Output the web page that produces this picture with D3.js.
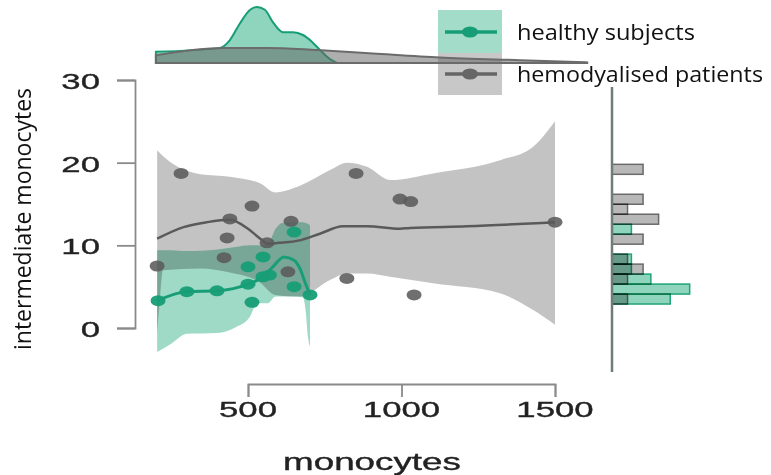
<!DOCTYPE html>
<html>
<head>
<meta charset="utf-8">
<script src="https://cdn.jsdelivr.net/npm/d3@7"></script>
<style>
  body { margin: 0; background: #ffffff; }
  svg { display: block; }
</style>
</head>
<body>
<div id="chart"></div>
<script>
// ---- data ----
var healthyX = [207, 301, 399, 500, 513, 500, 549, 549, 570, 650, 650, 702];
var healthyY = [3.3, 4.4, 4.5, 5.3, 3.1, 7.4, 8.6, 6.2, 6.4, 11.6, 5.0, 4.0];
var patientX = [282, 852, 995, 1030, 513, 441, 640, 1500, 432, 562, 422, 204, 630, 822, 1041];
var patientY = [18.7, 18.7, 15.6, 15.3, 14.75, 13.2, 12.9, 12.8, 10.9, 10.3, 8.5, 7.5, 6.8, 6.0, 4.0];

// smoothed fits
var healthyFitX = [204, 301, 399, 500, 549, 581, 617, 650, 669, 685, 702];
var healthyFitY = [3.3, 4.4, 4.5, 5.3, 6.2, 7.4, 8.6, 8.2, 7.2, 5.6, 4.0];
var patientFitX = [204, 290, 366, 441, 500, 540, 565, 600, 669, 734, 809, 888, 995, 1028, 1213, 1500];
var patientFitY = [10.8, 12.2, 12.8, 13.1, 12.0, 10.8, 10.2, 10.3, 10.6, 11.4, 12.3, 12.3, 12.0, 12.1, 12.3, 12.8];

// confidence bands
var healthyBandX = [204, 250, 300, 400, 460, 505, 530, 565, 590, 611, 650, 679, 688, 695, 702];
var healthyLo = [-2.9, -1.9, -0.7, -0.6, 0.1, 1.3, 3.0, 3.0, 3.8, 3.8, 3.8, 3.7, 2.0, -1.0, -2.3];
var healthyHi = [9.4, 9.4, 9.3, 9.5, 9.8, 10.0, 10.0, 10.2, 12.0, 12.7, 12.8, 12.8, 12.7, 12.6, 12.4];
var patientBandX = [204, 212, 223, 344, 441, 539, 588, 669, 767, 822, 888, 963, 1103, 1321, 1428, 1500];
var patientLo = [-0.6, 3.0, 7.0, 7.2, 6.7, 5.5, 4.0, 3.8, 5.8, 6.6, 6.6, 6.2, 5.4, 4.2, 2.2, 0.4];
var patientHi = [21.5, 21.2, 20.8, 18.6, 18.3, 17.5, 16.4, 17.2, 19.1, 20.0, 19.5, 17.9, 18.7, 20.3, 21.9, 25.0];

// marginal densities on top (relative height)
var healthyDensX = [200, 409, 441, 474, 507, 529, 555, 581, 614, 647, 679, 708, 735, 767, 790];
var healthyDens = [0.2, 0.27, 0.41, 0.71, 0.95, 1.0, 0.95, 0.73, 0.55, 0.55, 0.5, 0.38, 0.23, 0.07, 0];
var patientDensX = [200, 419, 562, 725, 907, 1125, 1386, 1605];
var patientDens = [0.14, 0.27, 0.27, 0.23, 0.17, 0.1, 0.05, 0.01];

var xTicks = [500, 1000, 1500];
var yTicks = [0, 10, 20, 30];
var groups = ["healthy subjects", "hemodyalised patients"];

// ---- colours ----
var green = "#179e76", greenBand = "#9edac6", greenFill = "#8fd5bd";
var grey = "#5b5b5b", greyBand = "#c3c3c3", greyFill = "#b8b8b8";

var svg = d3.select("#chart").append("svg")
    .attr("width", 771)
    .attr("height", 475);

var x = d3.scaleLinear().domain([500, 1500]).range([248, 555]);
var y = d3.scaleLinear().domain([0, 30]).range([328, 80]);
var dy = d3.scaleLinear().domain([0, 1]).range([63, 7]);
var hx = d3.scaleLinear().domain([0, 1]).range([612, 845]);

function zip(xs, ys) {
    return xs.map(function (v, i) { return [v, ys[i]]; });
}

// stretched text (the picture is wider than it is tall)
function wideText(g, px, py, str, size, sx, anchor) {
    return g.append("text")
        .attr("transform", "translate(" + px + "," + py + ") scale(" + sx + ",1)")
        .attr("text-anchor", anchor)
        .style("font-family", "'Liberation Sans', Arial, sans-serif")
        .style("font-size", size + "px")
        .style("fill", "#222")
        .style("stroke", "#222")
        .style("stroke-width", 0.35)
        .text(str);
}

// ---- legend ----
var leg = svg.append("g");
leg.append("rect").attr("x", 438).attr("y", 10).attr("width", 64).attr("height", 43).attr("fill", "#a3dcc9");
leg.append("rect").attr("x", 438).attr("y", 53).attr("width", 64).attr("height", 42).attr("fill", "#c8c8c8");
[[32, green], [74, "#666"]].forEach(function (r, i) {
    leg.append("line").attr("x1", 445).attr("x2", 497).attr("y1", r[0]).attr("y2", r[0])
        .attr("stroke", r[1]).attr("stroke-width", 3.5);
    leg.append("ellipse").attr("cx", 470).attr("cy", r[0]).attr("rx", 8).attr("ry", 5.5).attr("fill", r[1]);
    leg.append("text")
        .attr("x", 517)
        .attr("y", r[0] + 8)
        .attr("textLength", i == 0 ? 178 : 246)
        .attr("lengthAdjust", "spacingAndGlyphs")
        .style("font-family", "'Open Sans', sans-serif")
        .style("font-size", "21px")
        .style("fill", "#111")
        .text(groups[i]);
});

// ---- top marginal densities ----
var densArea = d3.area()
    .x(function (d) { return x(d[0]); })
    .y0(dy(0))
    .y1(function (d) { return dy(d[1]); })
    .curve(d3.curveMonotoneX);

svg.append("path")
    .datum(zip(healthyDensX, healthyDens))
    .attr("d", densArea)
    .attr("fill", greenFill)
    .attr("stroke", green)
    .attr("stroke-width", 2);
svg.append("path")
    .datum(zip(patientDensX, patientDens))
    .attr("d", densArea)
    .attr("fill", "rgba(100,100,100,0.52)")
    .attr("stroke", "#6b6b6b")
    .attr("stroke-width", 2);

// ---- main panel ----
var band = d3.area()
    .x(function (d) { return x(d[0]); })
    .y0(function (d) { return y(d[1]); })
    .y1(function (d) { return y(d[2]); })
    .curve(d3.curveMonotoneX);

svg.append("path")
    .datum(patientBandX.map(function (v, i) { return [v, patientLo[i], patientHi[i]]; }))
    .attr("d", band)
    .attr("fill", greyBand)
    .style("mix-blend-mode", "multiply");
svg.append("path")
    .datum(healthyBandX.map(function (v, i) { return [v, healthyLo[i], healthyHi[i]]; }))
    .attr("d", band)
    .attr("fill", greenBand)
    .style("mix-blend-mode", "multiply");

var fit = d3.line()
    .x(function (d) { return x(d[0]); })
    .y(function (d) { return y(d[1]); })
    .curve(d3.curveMonotoneX);

svg.selectAll(".pt-patient")
    .data(zip(patientX, patientY))
    .enter()
    .append("ellipse")
    .attr("class", "pt-patient")
    .attr("cx", function (d) { return x(d[0]); })
    .attr("cy", function (d) { return y(d[1]); })
    .attr("rx", 7.5)
    .attr("ry", 5.5)
    .attr("fill", grey)
    .attr("opacity", 0.88);

svg.append("path")
    .datum(zip(patientFitX, patientFitY))
    .attr("d", fit)
    .attr("fill", "none")
    .attr("stroke", "#5a5a5a")
    .attr("stroke-width", 2.5);

svg.selectAll(".pt-healthy")
    .data(zip(healthyX, healthyY))
    .enter()
    .append("ellipse")
    .attr("class", "pt-healthy")
    .attr("cx", function (d) { return x(d[0]); })
    .attr("cy", function (d) { return y(d[1]); })
    .attr("rx", 7.5)
    .attr("ry", 5.5)
    .attr("fill", green)
    .attr("opacity", 0.95);

svg.append("path")
    .datum(zip(healthyFitX, healthyFitY))
    .attr("d", fit)
    .attr("fill", "none")
    .attr("stroke", green)
    .attr("stroke-width", 3);

// ---- axes ----
var yAxis = svg.append("g")
    .attr("transform", "translate(135,0)")
    .call(d3.axisLeft(y).tickValues(yTicks).tickSize(18).tickSizeOuter(18).tickFormat(""));
var xAxis = svg.append("g")
    .attr("transform", "translate(0,384)")
    .call(d3.axisBottom(x).tickValues(xTicks).tickSize(13).tickSizeOuter(13).tickFormat(""));
[yAxis, xAxis].forEach(function (a) {
    a.selectAll("path, line").attr("stroke", "#8a8a8a").attr("stroke-width", 1.8);
});

yTicks.forEach(function (t) { wideText(svg, 100, y(t) + 9, t, 22, 1.58, "end"); });
xTicks.forEach(function (t) { wideText(svg, x(t), 417, t, 22, 1.58, "middle"); });
wideText(svg, 372, 470, "monocytes", 23, 1.6, "middle");

svg.append("text")
    .attr("transform", "translate(31,219) rotate(-90)")
    .attr("text-anchor", "middle")
    .style("font-family", "'Open Sans', sans-serif")
    .style("font-size", "23px")
    .style("fill", "#111")
    .text("intermediate monocytes");

// ---- right marginal histogram ----
var thresholds = d3.range(2.9, 19.8, 1.207);
var bin = d3.bin().domain([2.9, 19.8]).thresholds(thresholds);
var histSets = [
    { vals: patientY, fill: greyFill, stroke: "#6a6a6a" },
    { vals: healthyY, fill: greenFill, stroke: "#1fa37a" }
];
histSets.forEach(function (s) {
    var bins = bin(s.vals).filter(function (b) { return b.length > 0; });
    var n = s.vals.length;
    svg.append("g")
        .selectAll("rect")
        .data(bins)
        .enter()
        .append("rect")
        .attr("x", hx(0))
        .attr("y", function (b) { return y(b.x1); })
        .attr("width", function (b) { return hx(b.length / n) - hx(0); })
        .attr("height", function (b) { return y(b.x0) - y(b.x1); })
        .attr("fill", s.fill)
        .attr("stroke", s.stroke)
        .attr("stroke-width", 1.5)
        .style("mix-blend-mode", "multiply");
});

svg.append("line")
    .attr("x1", 612).attr("x2", 612)
    .attr("y1", 87).attr("y2", 372)
    .attr("stroke", "#6f7d78")
    .attr("stroke-width", 2.5);
</script>
</body>
</html>
